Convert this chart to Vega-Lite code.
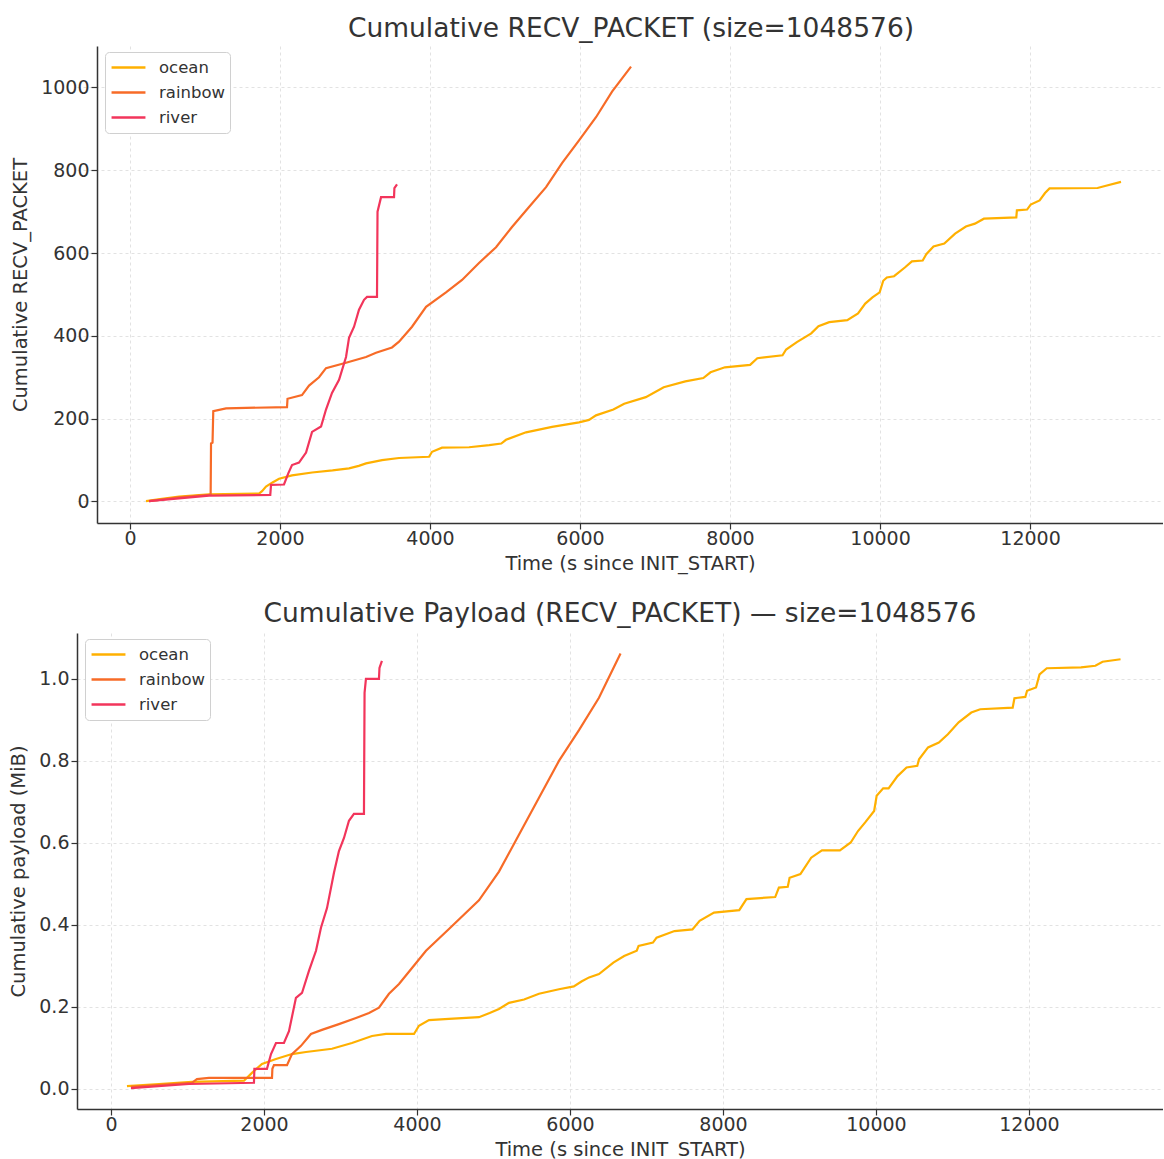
{
  "$schema": "https://vega.github.io/schema/vega-lite/v6.json",
  "background": "white",
  "padding": {"left": 8, "top": 15, "right": 0, "bottom": 0},
  "config": {
    "font": "DejaVu Sans",
    "view": {"stroke": null},
    "concat": {"spacing": 27},
    "axis": {
      "domainColor": "#333333", "domainWidth": 1.5,
      "tickColor": "#333333", "tickSize": 6, "tickWidth": 1.2,
      "labelFontSize": 19, "labelColor": "#333333", "labelFont": "DejaVu Sans",
      "titleFontSize": 19.5, "titleFontWeight": "normal", "titleColor": "#333333", "titleFont": "DejaVu Sans",
      "gridColor": "#e2e2e2", "gridDash": [3, 3], "gridWidth": 1
    },
    "axisX": {"labelPadding": 0, "titlePadding": 6},
    "axisY": {"labelPadding": 2, "titlePadding": 10},
    "title": {"fontSize": 26.5, "fontWeight": "normal", "color": "#333333", "font": "DejaVu Sans", "offset": 4},
    "legend": {
      "title": null, "orient": "none", "padding": 5,
      "symbolType": "stroke", "symbolSize": 1150, "symbolStrokeWidth": 2.5,
      "labelFontSize": 16.5, "labelColor": "#333333", "labelOffset": 12, "rowPadding": 4, "clipHeight": 21,
      "fillColor": "white", "strokeColor": "#d0d0d0", "cornerRadius": 4
    }
  },
  "datasets": {
    "packets": [
      {"series": "ocean", "t": 213, "v": 1}, {"series": "ocean", "t": 400, "v": 6}, {"series": "ocean", "t": 653, "v": 12}, {"series": "ocean", "t": 1053, "v": 17}, {"series": "ocean", "t": 1720, "v": 19}, {"series": "ocean", "t": 1760, "v": 25}, {"series": "ocean", "t": 1813, "v": 36}, {"series": "ocean", "t": 1900, "v": 46}, {"series": "ocean", "t": 1987, "v": 55}, {"series": "ocean", "t": 2160, "v": 63}, {"series": "ocean", "t": 2427, "v": 70}, {"series": "ocean", "t": 2700, "v": 75}, {"series": "ocean", "t": 2920, "v": 80}, {"series": "ocean", "t": 3050, "v": 86}, {"series": "ocean", "t": 3147, "v": 92}, {"series": "ocean", "t": 3360, "v": 100}, {"series": "ocean", "t": 3587, "v": 105}, {"series": "ocean", "t": 3987, "v": 108}, {"series": "ocean", "t": 4027, "v": 120}, {"series": "ocean", "t": 4160, "v": 130}, {"series": "ocean", "t": 4520, "v": 131}, {"series": "ocean", "t": 4790, "v": 136}, {"series": "ocean", "t": 4950, "v": 140}, {"series": "ocean", "t": 5013, "v": 149}, {"series": "ocean", "t": 5280, "v": 167}, {"series": "ocean", "t": 5627, "v": 180}, {"series": "ocean", "t": 5987, "v": 191}, {"series": "ocean", "t": 6120, "v": 197}, {"series": "ocean", "t": 6213, "v": 208}, {"series": "ocean", "t": 6445, "v": 222}, {"series": "ocean", "t": 6589, "v": 236}, {"series": "ocean", "t": 6877, "v": 252}, {"series": "ocean", "t": 7116, "v": 276}, {"series": "ocean", "t": 7404, "v": 290}, {"series": "ocean", "t": 7644, "v": 298}, {"series": "ocean", "t": 7740, "v": 312}, {"series": "ocean", "t": 7932, "v": 324}, {"series": "ocean", "t": 8268, "v": 330}, {"series": "ocean", "t": 8364, "v": 346}, {"series": "ocean", "t": 8700, "v": 353}, {"series": "ocean", "t": 8748, "v": 367}, {"series": "ocean", "t": 8891, "v": 385}, {"series": "ocean", "t": 9083, "v": 406}, {"series": "ocean", "t": 9179, "v": 423}, {"series": "ocean", "t": 9323, "v": 433}, {"series": "ocean", "t": 9563, "v": 438}, {"series": "ocean", "t": 9707, "v": 454}, {"series": "ocean", "t": 9803, "v": 478}, {"series": "ocean", "t": 9899, "v": 493}, {"series": "ocean", "t": 9995, "v": 505}, {"series": "ocean", "t": 10043, "v": 533}, {"series": "ocean", "t": 10091, "v": 541}, {"series": "ocean", "t": 10187, "v": 544}, {"series": "ocean", "t": 10331, "v": 565}, {"series": "ocean", "t": 10425, "v": 580}, {"series": "ocean", "t": 10569, "v": 582}, {"series": "ocean", "t": 10617, "v": 597}, {"series": "ocean", "t": 10713, "v": 616}, {"series": "ocean", "t": 10857, "v": 623}, {"series": "ocean", "t": 11001, "v": 647}, {"series": "ocean", "t": 11145, "v": 664}, {"series": "ocean", "t": 11265, "v": 671}, {"series": "ocean", "t": 11385, "v": 683}, {"series": "ocean", "t": 11817, "v": 686}, {"series": "ocean", "t": 11825, "v": 703}, {"series": "ocean", "t": 11961, "v": 705}, {"series": "ocean", "t": 12009, "v": 717}, {"series": "ocean", "t": 12128, "v": 727}, {"series": "ocean", "t": 12200, "v": 745}, {"series": "ocean", "t": 12260, "v": 756}, {"series": "ocean", "t": 12900, "v": 757}, {"series": "ocean", "t": 13000, "v": 762}, {"series": "ocean", "t": 13213, "v": 772},
      {"series": "rainbow", "t": 253, "v": 1}, {"series": "rainbow", "t": 653, "v": 10}, {"series": "rainbow", "t": 1053, "v": 16}, {"series": "rainbow", "t": 1075, "v": 17}, {"series": "rainbow", "t": 1080, "v": 140}, {"series": "rainbow", "t": 1100, "v": 142}, {"series": "rainbow", "t": 1110, "v": 218}, {"series": "rainbow", "t": 1280, "v": 225}, {"series": "rainbow", "t": 2093, "v": 228}, {"series": "rainbow", "t": 2100, "v": 248}, {"series": "rainbow", "t": 2293, "v": 257}, {"series": "rainbow", "t": 2387, "v": 280}, {"series": "rainbow", "t": 2520, "v": 300}, {"series": "rainbow", "t": 2613, "v": 322}, {"series": "rainbow", "t": 2880, "v": 335}, {"series": "rainbow", "t": 3147, "v": 349}, {"series": "rainbow", "t": 3280, "v": 359}, {"series": "rainbow", "t": 3493, "v": 372}, {"series": "rainbow", "t": 3587, "v": 386}, {"series": "rainbow", "t": 3760, "v": 422}, {"series": "rainbow", "t": 3947, "v": 470}, {"series": "rainbow", "t": 4213, "v": 505}, {"series": "rainbow", "t": 4427, "v": 535}, {"series": "rainbow", "t": 4653, "v": 576}, {"series": "rainbow", "t": 4880, "v": 614}, {"series": "rainbow", "t": 5093, "v": 663}, {"series": "rainbow", "t": 5320, "v": 711}, {"series": "rainbow", "t": 5547, "v": 759}, {"series": "rainbow", "t": 5760, "v": 817}, {"series": "rainbow", "t": 5987, "v": 872}, {"series": "rainbow", "t": 6213, "v": 928}, {"series": "rainbow", "t": 6427, "v": 990}, {"series": "rainbow", "t": 6680, "v": 1050},
      {"series": "river", "t": 253, "v": 1}, {"series": "river", "t": 1053, "v": 14}, {"series": "river", "t": 1870, "v": 16}, {"series": "river", "t": 1880, "v": 40}, {"series": "river", "t": 2053, "v": 41}, {"series": "river", "t": 2110, "v": 68}, {"series": "river", "t": 2160, "v": 88}, {"series": "river", "t": 2253, "v": 94}, {"series": "river", "t": 2347, "v": 118}, {"series": "river", "t": 2427, "v": 168}, {"series": "river", "t": 2547, "v": 181}, {"series": "river", "t": 2613, "v": 222}, {"series": "river", "t": 2693, "v": 262}, {"series": "river", "t": 2787, "v": 294}, {"series": "river", "t": 2880, "v": 349}, {"series": "river", "t": 2920, "v": 395}, {"series": "river", "t": 2987, "v": 422}, {"series": "river", "t": 3053, "v": 463}, {"series": "river", "t": 3120, "v": 487}, {"series": "river", "t": 3160, "v": 494}, {"series": "river", "t": 3293, "v": 494}, {"series": "river", "t": 3300, "v": 700}, {"series": "river", "t": 3347, "v": 735}, {"series": "river", "t": 3520, "v": 735}, {"series": "river", "t": 3525, "v": 757}, {"series": "river", "t": 3560, "v": 766}
    ],
    "payload": [
      {"series": "ocean", "t": 209, "v": 0.007}, {"series": "ocean", "t": 627, "v": 0.012}, {"series": "ocean", "t": 1059, "v": 0.017}, {"series": "ocean", "t": 1739, "v": 0.020}, {"series": "ocean", "t": 1843, "v": 0.039}, {"series": "ocean", "t": 1974, "v": 0.061}, {"series": "ocean", "t": 2157, "v": 0.073}, {"series": "ocean", "t": 2366, "v": 0.085}, {"series": "ocean", "t": 2549, "v": 0.090}, {"series": "ocean", "t": 2889, "v": 0.098}, {"series": "ocean", "t": 3150, "v": 0.112}, {"series": "ocean", "t": 3412, "v": 0.129}, {"series": "ocean", "t": 3595, "v": 0.134}, {"series": "ocean", "t": 3961, "v": 0.134}, {"series": "ocean", "t": 4026, "v": 0.154}, {"series": "ocean", "t": 4157, "v": 0.168}, {"series": "ocean", "t": 4418, "v": 0.171}, {"series": "ocean", "t": 4810, "v": 0.175}, {"series": "ocean", "t": 4950, "v": 0.185}, {"series": "ocean", "t": 5072, "v": 0.195}, {"series": "ocean", "t": 5203, "v": 0.21}, {"series": "ocean", "t": 5400, "v": 0.218}, {"series": "ocean", "t": 5595, "v": 0.232}, {"series": "ocean", "t": 5856, "v": 0.243}, {"series": "ocean", "t": 6050, "v": 0.25}, {"series": "ocean", "t": 6150, "v": 0.262}, {"series": "ocean", "t": 6250, "v": 0.272}, {"series": "ocean", "t": 6379, "v": 0.280}, {"series": "ocean", "t": 6567, "v": 0.308}, {"series": "ocean", "t": 6708, "v": 0.324}, {"series": "ocean", "t": 6873, "v": 0.337}, {"series": "ocean", "t": 6897, "v": 0.349}, {"series": "ocean", "t": 7085, "v": 0.357}, {"series": "ocean", "t": 7132, "v": 0.369}, {"series": "ocean", "t": 7366, "v": 0.385}, {"series": "ocean", "t": 7601, "v": 0.389}, {"series": "ocean", "t": 7695, "v": 0.410}, {"series": "ocean", "t": 7883, "v": 0.430}, {"series": "ocean", "t": 8213, "v": 0.436}, {"series": "ocean", "t": 8307, "v": 0.463}, {"series": "ocean", "t": 8683, "v": 0.468}, {"series": "ocean", "t": 8731, "v": 0.491}, {"series": "ocean", "t": 8847, "v": 0.493}, {"series": "ocean", "t": 8871, "v": 0.515}, {"series": "ocean", "t": 9012, "v": 0.524}, {"series": "ocean", "t": 9153, "v": 0.564}, {"series": "ocean", "t": 9294, "v": 0.582}, {"series": "ocean", "t": 9529, "v": 0.582}, {"series": "ocean", "t": 9670, "v": 0.601}, {"series": "ocean", "t": 9765, "v": 0.629}, {"series": "ocean", "t": 9859, "v": 0.650}, {"series": "ocean", "t": 9976, "v": 0.678}, {"series": "ocean", "t": 10009, "v": 0.715}, {"series": "ocean", "t": 10094, "v": 0.733}, {"series": "ocean", "t": 10165, "v": 0.733}, {"series": "ocean", "t": 10282, "v": 0.763}, {"series": "ocean", "t": 10400, "v": 0.784}, {"series": "ocean", "t": 10540, "v": 0.788}, {"series": "ocean", "t": 10563, "v": 0.804}, {"series": "ocean", "t": 10681, "v": 0.833}, {"series": "ocean", "t": 10822, "v": 0.845}, {"series": "ocean", "t": 10940, "v": 0.865}, {"series": "ocean", "t": 11081, "v": 0.894}, {"series": "ocean", "t": 11246, "v": 0.918}, {"series": "ocean", "t": 11363, "v": 0.926}, {"series": "ocean", "t": 11787, "v": 0.930}, {"series": "ocean", "t": 11810, "v": 0.953}, {"series": "ocean", "t": 11952, "v": 0.956}, {"series": "ocean", "t": 11975, "v": 0.971}, {"series": "ocean", "t": 12092, "v": 0.979}, {"series": "ocean", "t": 12138, "v": 1.011}, {"series": "ocean", "t": 12233, "v": 1.026}, {"series": "ocean", "t": 12680, "v": 1.028}, {"series": "ocean", "t": 12868, "v": 1.032}, {"series": "ocean", "t": 12962, "v": 1.042}, {"series": "ocean", "t": 13197, "v": 1.048},
      {"series": "rainbow", "t": 261, "v": 0.005}, {"series": "rainbow", "t": 1059, "v": 0.015}, {"series": "rainbow", "t": 1124, "v": 0.024}, {"series": "rainbow", "t": 1281, "v": 0.027}, {"series": "rainbow", "t": 2105, "v": 0.027}, {"series": "rainbow", "t": 2110, "v": 0.049}, {"series": "rainbow", "t": 2131, "v": 0.058}, {"series": "rainbow", "t": 2301, "v": 0.058}, {"series": "rainbow", "t": 2366, "v": 0.085}, {"series": "rainbow", "t": 2484, "v": 0.105}, {"series": "rainbow", "t": 2614, "v": 0.134}, {"series": "rainbow", "t": 2758, "v": 0.144}, {"series": "rainbow", "t": 2980, "v": 0.158}, {"series": "rainbow", "t": 3203, "v": 0.173}, {"series": "rainbow", "t": 3373, "v": 0.185}, {"series": "rainbow", "t": 3503, "v": 0.198}, {"series": "rainbow", "t": 3634, "v": 0.232}, {"series": "rainbow", "t": 3765, "v": 0.256}, {"series": "rainbow", "t": 3935, "v": 0.295}, {"series": "rainbow", "t": 4118, "v": 0.337}, {"series": "rainbow", "t": 4418, "v": 0.390}, {"series": "rainbow", "t": 4810, "v": 0.46}, {"series": "rainbow", "t": 5072, "v": 0.53}, {"series": "rainbow", "t": 5333, "v": 0.62}, {"series": "rainbow", "t": 5595, "v": 0.71}, {"series": "rainbow", "t": 5856, "v": 0.80}, {"series": "rainbow", "t": 6118, "v": 0.875}, {"series": "rainbow", "t": 6379, "v": 0.954}, {"series": "rainbow", "t": 6661, "v": 1.062},
      {"series": "river", "t": 261, "v": 0.002}, {"series": "river", "t": 1020, "v": 0.012}, {"series": "river", "t": 1869, "v": 0.015}, {"series": "river", "t": 1875, "v": 0.049}, {"series": "river", "t": 2039, "v": 0.049}, {"series": "river", "t": 2092, "v": 0.085}, {"series": "river", "t": 2157, "v": 0.112}, {"series": "river", "t": 2261, "v": 0.112}, {"series": "river", "t": 2327, "v": 0.141}, {"series": "river", "t": 2418, "v": 0.222}, {"series": "river", "t": 2497, "v": 0.234}, {"series": "river", "t": 2588, "v": 0.288}, {"series": "river", "t": 2680, "v": 0.337}, {"series": "river", "t": 2745, "v": 0.393}, {"series": "river", "t": 2824, "v": 0.441}, {"series": "river", "t": 2915, "v": 0.527}, {"series": "river", "t": 2980, "v": 0.580}, {"series": "river", "t": 3046, "v": 0.612}, {"series": "river", "t": 3111, "v": 0.654}, {"series": "river", "t": 3176, "v": 0.671}, {"series": "river", "t": 3307, "v": 0.671}, {"series": "river", "t": 3315, "v": 0.966}, {"series": "river", "t": 3333, "v": 1.0}, {"series": "river", "t": 3503, "v": 1.0}, {"series": "river", "t": 3510, "v": 1.027}, {"series": "river", "t": 3542, "v": 1.044}
    ]
  },
  "vconcat": [
    {
      "width": 1086, "height": 477,
      "title": {"text": "Cumulative RECV_PACKET (size=1048576)", "dx": 11},
      "data": {"name": "packets"},
      "mark": {"type": "line", "strokeWidth": 2.2, "clip": true},
      "encoding": {
        "x": {"field": "t", "type": "quantitative", "scale": {"domain": [-707, 13773], "nice": false, "zero": false},
              "axis": {"values": [0, 2000, 4000, 6000, 8000, 10000, 12000], "title": "Time (s since INIT_START)", "format": "d", "titleX": 553, "domainDash": [0, 20, 1100, 0]}},
        "y": {"field": "v", "type": "quantitative", "scale": {"domain": [-52, 1100], "nice": false, "zero": false},
              "axis": {"values": [0, 200, 400, 600, 800, 1000], "title": "Cumulative RECV_PACKET", "format": "d", "offset": -20}},
        "color": {"field": "series", "type": "nominal",
                  "scale": {"domain": ["ocean", "rainbow", "river"], "range": ["#FFB000", "#F76B27", "#F2355B"]},
                  "legend": {"legendX": 28, "legendY": 6}}
      }
    },
    {
      "width": 1086, "height": 476,
      "title": {"text": "Cumulative Payload (RECV_PACKET) — size=1048576", "offset": 6},
      "data": {"name": "payload"},
      "mark": {"type": "line", "strokeWidth": 2.2, "clip": true},
      "encoding": {
        "x": {"field": "t", "type": "quantitative", "scale": {"domain": [-444, 13752], "nice": false, "zero": false},
              "axis": {"values": [0, 2000, 4000, 6000, 8000, 10000, 12000], "title": "Time (s since INIT_START)", "format": "d"}},
        "y": {"field": "v", "type": "quantitative", "scale": {"domain": [-0.049, 1.112], "nice": false, "zero": false},
              "axis": {"values": [0, 0.2, 0.4, 0.6, 0.8, 1.0], "title": "Cumulative payload (MiB)", "format": ".1f"}},
        "color": {"field": "series", "type": "nominal",
                  "scale": {"domain": ["ocean", "rainbow", "river"], "range": ["#FFB000", "#F76B27", "#F2355B"]},
                  "legend": {"legendX": 8, "legendY": 6}}
      }
    }
  ],
  "resolve": {"scale": {"x": "independent", "y": "independent", "color": "independent"}, "legend": {"color": "independent"}}
}
